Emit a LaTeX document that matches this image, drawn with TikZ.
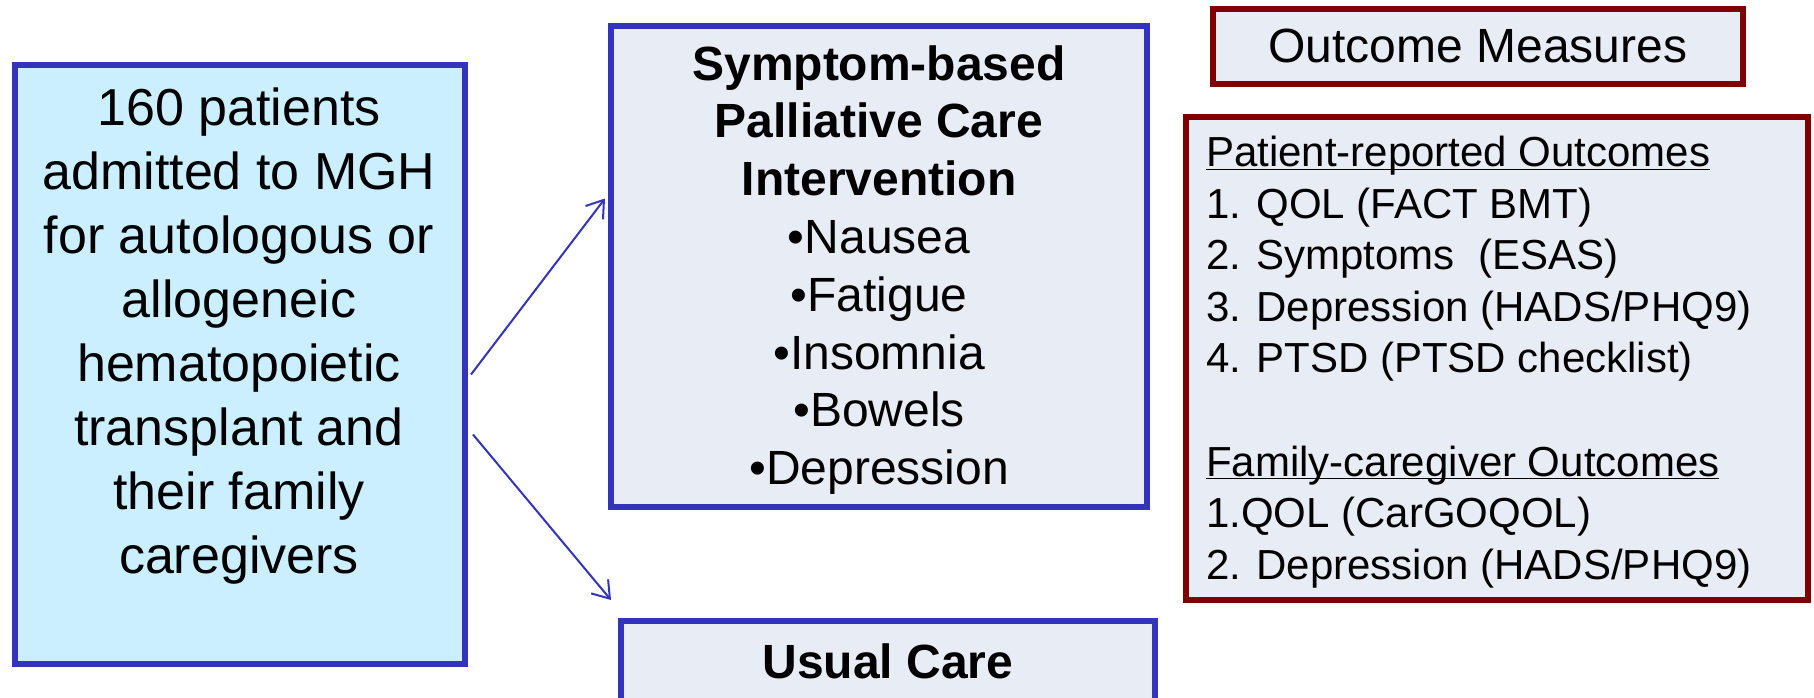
\documentclass[tikz,border=0pt]{standalone}
\usepackage{fontspec}
\setmainfont{Liberation Sans}
\usetikzlibrary{arrows.meta,calc}
\definecolor{bblue}{RGB}{51,51,187}
\definecolor{lcyan}{RGB}{204,239,255}
\definecolor{lgrey}{RGB}{232,236,245}
\definecolor{dred}{RGB}{128,0,0}
\newcommand\myul[1]{\underbar{#1}}
\tikzset{
  boxbase/.style={draw, line width=3pt, inner sep=0pt, outer sep=0pt},
  bluebox/.style={boxbase, draw=bblue, fill=lgrey},
  cyanbox/.style={boxbase, draw=bblue, fill=lcyan},
  redbox/.style={boxbase, draw=dred, fill=lgrey},
  txt/.style={inner sep=0pt, outer sep=0pt, text=black},
  arr/.style={draw=bblue, line width=1pt, -{Straight Barb[length=8pt,width=11pt]}}
}
\begin{document}
\begin{tikzpicture}[x=0.5pt,y=-0.5pt]
\useasboundingbox (0,0) rectangle (1814,697);
% boxes
\node[cyanbox, minimum width=225pt, minimum height=299.5pt] (left) at (240,364.5) {};
\node[bluebox, minimum width=268pt, minimum height=240.5pt] (mid) at (879,266.5) {};
\node[bluebox, minimum width=267pt, minimum height=40pt] (usual) at (888,661) {};
\node[redbox, minimum width=265pt, minimum height=37.5pt] (om) at (1478,46.5) {};
\node[redbox, minimum width=311pt, minimum height=241.5pt] (outc) at (1497,358.5) {};
% texts
\node[txt, align=center, font={\fontsize{26}{32}\selectfont}] (lefttxt) at (239,336)
 {160 patients\\admitted to MGH\\for autologous or\\allogeneic\\hematopoietic\\transplant and\\their family\\caregivers};
\node[txt, align=center, font={\fontsize{24}{28.9}\selectfont}] (midtxt) at (879,270)
 {\textbf{Symptom-based}\\\textbf{Palliative Care}\\\textbf{Intervention}\\•Nausea\\•Fatigue\\•Insomnia\\•Bowels\\•Depression};
\node[txt, font={\fontsize{24}{28.9}\selectfont\bfseries}] (usualtxt) at (888,661) {Usual Care};
\node[txt, font={\fontsize{24}{28.9}\selectfont}] (omtxt) at (1478,46) {Outcome Measures};
\node[txt, anchor=west, align=left, font={\fontsize{21}{25.8}\selectfont}] (outctxt) at (1206,362)
 {\myul{Patient-reported Outcomes}\\1. QOL (FACT BMT)\\2. Symptoms\ \ (ESAS)\\3. Depression (HADS/PHQ9)\\4. PTSD (PTSD checklist)\\\strut\\\myul{Family-caregiver Outcomes}\\1.QOL (CarGOQOL)\\2. Depression (HADS/PHQ9)};
% connector ends
\coordinate (a1s) at ($(left.east)+(6,10)$);
\coordinate (a1e) at ($(mid.west)+(-6,-68)$);
\coordinate (a2s) at ($(left.east)+(8,70)$);
\coordinate (a2e) at ($(usual.north west)+(-10,-21)$);
\draw[arr] (a1s) -- (a1e);
\draw[arr] (a2s) -- (a2e);
\end{tikzpicture}
\end{document}
